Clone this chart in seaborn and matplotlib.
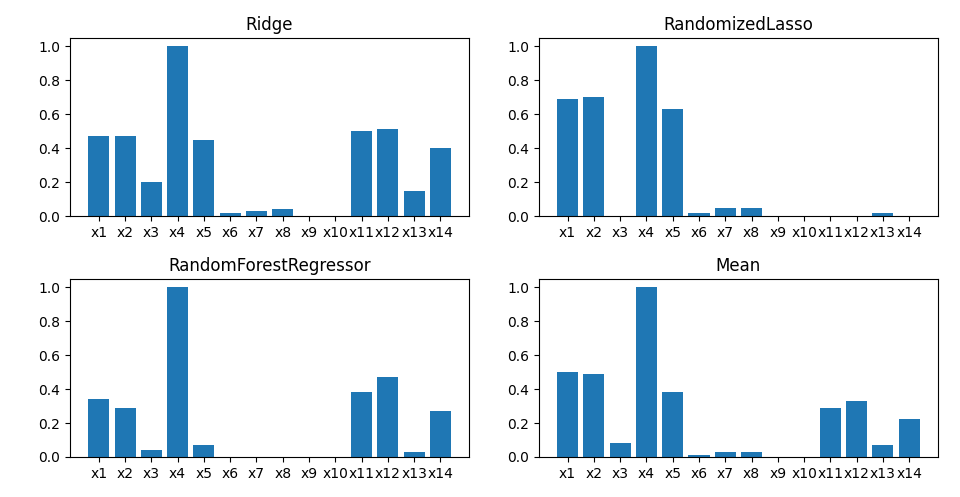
import matplotlib
matplotlib.use("Agg")
import matplotlib.pyplot as plt
import seaborn as sns
import pandas as pd

features = ["x1", "x2", "x3", "x4", "x5", "x6", "x7", "x8", "x9", "x10", "x11", "x12", "x13", "x14"]

ridge = [0.47, 0.47, 0.20, 1.00, 0.447, 0.018, 0.029, 0.041, 0.0, 0.0, 0.50, 0.512, 0.147, 0.40]
rand_lasso = [0.688, 0.70, 0.0, 1.00, 0.629, 0.018, 0.047, 0.047, 0.0, 0.0, 0.0, 0.0, 0.018, 0.0]
random_forest = [0.341, 0.288, 0.041, 1.00, 0.071, 0.0, 0.0, 0.0, 0.0, 0.0, 0.382, 0.47, 0.029, 0.27]
mean_scores = [0.50, 0.488, 0.082, 1.00, 0.382, 0.012, 0.029, 0.029, 0.0, 0.0, 0.288, 0.329, 0.071, 0.224]

titles = ["Ridge", "RandomizedLasso", "RandomForestRegressor", "Mean"]
series = [ridge, rand_lasso, random_forest, mean_scores]

fig, axes = plt.subplots(2, 2, figsize=(9.6, 4.97), dpi=100)
fig.subplots_adjust(left=0.073, right=0.977, top=0.9235, bottom=0.0805, wspace=0.175, hspace=0.354)

for ax, title, vals in zip(axes.flat, titles, series):
    df = pd.DataFrame({"feature": features, "score": vals})
    sns.barplot(data=df, x="feature", y="score", color="#1f77b4", saturation=1,
                width=0.8, ax=ax, errorbar=None)
    n = len(features)
    pad = 0.05 * (n - 1 + 0.8)
    ax.set_xlim(-0.4 - pad, n - 1 + 0.4 + pad)
    ax.set_ylim(0, 1.05)
    ax.set_yticks([0.0, 0.2, 0.4, 0.6, 0.8, 1.0])
    ax.set_title(title, fontsize=12)
    ax.set_xlabel("")
    ax.set_ylabel("")

fig.savefig("out.png", dpi=100)
